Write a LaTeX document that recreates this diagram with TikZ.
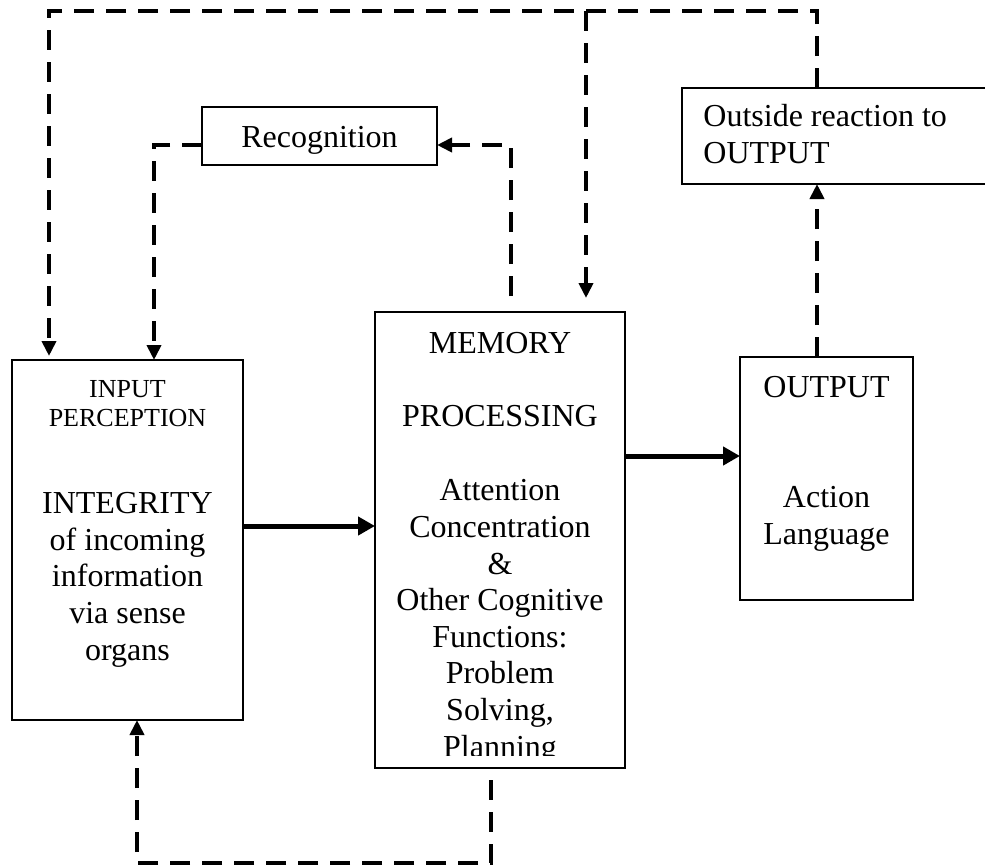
\documentclass[tikz,border=0pt]{standalone}
\usepackage{fontspec}
\setmainfont{Liberation Serif}
\usetikzlibrary{arrows.meta}
\begin{document}
\begin{tikzpicture}[x=0.5pt,y=-0.5pt,
 box/.style={draw, line width=1pt, inner sep=0pt, outer sep=0pt},
 txt/.style={font=\fontsize{16}{18.3}\selectfont, align=center, inner sep=0pt, anchor=base},
 smalltxt/.style={font=\fontsize{13}{14.5}\selectfont, align=center, inner sep=0pt, anchor=base},
 dashline/.style={line width=2pt, dash pattern=on 10pt off 6pt},
 dtip/.style={-{Triangle[length=7.5pt,width=7pt]}},
 solidarrow/.style={line width=2.5pt, -{Triangle[length=8.5pt,width=9pt]}}
]
\useasboundingbox (0,0) rectangle (985,867);

% boxes
\node[box, minimum width=115.5pt, minimum height=180pt] (input) at (127.5,540) {};
\node[box, minimum width=125pt, minimum height=228pt] (memory) at (500,540) {};
\node[box, minimum width=86.5pt, minimum height=121.5pt] (output) at (826.5,478.5) {};
\node[box, minimum width=117.5pt, minimum height=29pt] (recog) at (319.5,136) {};
\node[box, minimum width=154pt, minimum height=48pt] (outside) at (836,136) {};

% texts (base anchor = baseline of last line)
\node[smalltxt] (inputlbl) at (127.5,426) {INPUT\\PERCEPTION};
\node[txt] (integrity) at (127.5,660) {INTEGRITY\\of incoming\\information\\via sense\\organs};
\node[txt] (memlbl) at (500,353) {MEMORY};
\node[txt] (proclbl) at (500,426) {PROCESSING};
\begin{scope}
\clip (376,300) rectangle (624,755);
\node[txt] (memtext) at (500,757) {Attention\\Concentration\\\&\\Other Cognitive\\Functions:\\Problem\\Solving,\\Planning};
\end{scope}
\node[txt] (outlbl) at (826.5,397) {OUTPUT};
\node[txt] (outtext) at (826.5,544) {Action\\Language};
\node[txt] (recoglbl) at (319.5,147) {Recognition};
\node[txt, align=left, anchor=base west] (outsidelbl) at (703,163) {Outside reaction to\\OUTPUT};

% coordinates
\coordinate (tl) at (49,11);
\coordinate (tm) at (586,11);
\coordinate (tr) at (817,11);
\coordinate (inArrL) at (49,356);
\coordinate (memArrT) at (586,298);
\coordinate (memRecS) at (511,296);
\coordinate (recC) at (511,145);
\coordinate (recL) at (154,145);
\coordinate (mb) at (491,780);
\coordinate (br) at (491,863);
\coordinate (bl) at (137,863);
\coordinate (a1) at (0,526);
\coordinate (a2) at (0,456);

% dashed connectors
\draw[dashline,dtip] (outside.north -| tr) -- (tr) -- (tl) -- (inArrL);
\draw[dashline,dtip] (tm) -- (memArrT);
\draw[dashline,dtip] (memRecS) -- (recC) -- (recog.east |- recC);
\draw[dashline,dtip] (recog.west |- recL) -- (recL) -- (input.north -| recL);
\draw[dashline,dtip] (output.north -| tr) -- (outside.south -| tr);
\draw[dashline,dtip] (mb) -- (br) -- (bl) -- (input.south -| bl);

% solid arrows
\draw[solidarrow] (input.east |- a1) -- (memory.west |- a1);
\draw[solidarrow] (memory.east |- a2) -- (output.west |- a2);
\end{tikzpicture}
\end{document}
